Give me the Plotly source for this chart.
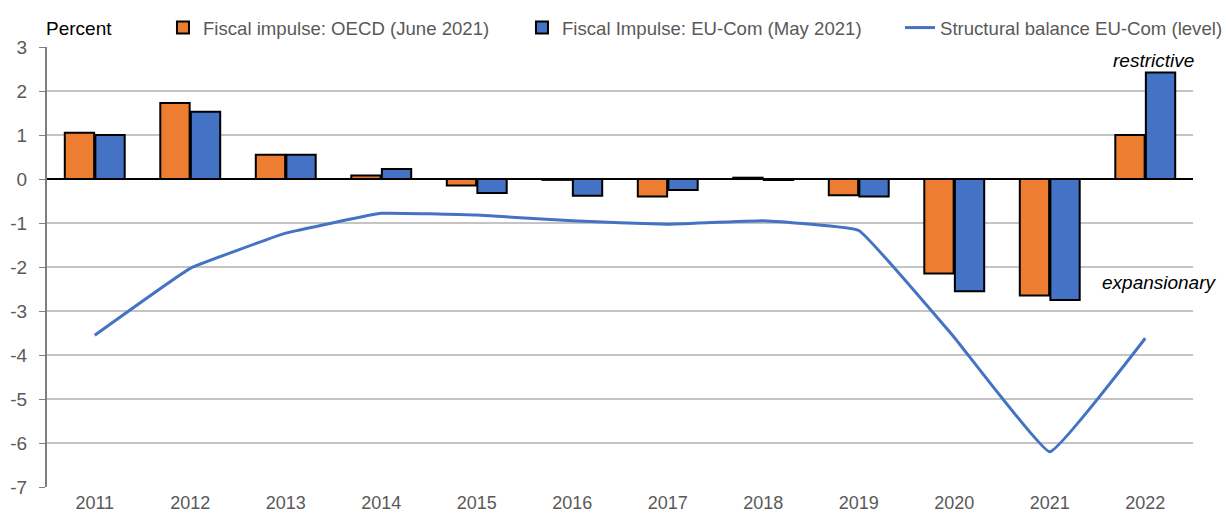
import plotly.graph_objects as go

years = ["2011", "2012", "2013", "2014", "2015", "2016", "2017", "2018", "2019", "2020", "2021", "2022"]
oecd_impulse = [1.05, 1.73, 0.55, 0.08, -0.15, -0.02, -0.40, 0.03, -0.37, -2.15, -2.65, 1.00]
eucom_impulse = [1.00, 1.53, 0.55, 0.23, -0.32, -0.38, -0.25, -0.02, -0.40, -2.55, -2.75, 2.42]
structural_balance = [-3.55, -2.03, -1.23, -0.78, -0.82, -0.95, -1.03, -0.95, -1.17, -3.60, -6.20, -3.62]
y_ticks = [3, 2, 1, 0, -1, -2, -3, -4, -5, -6, -7]
y_tick_labels = ["3", "2", "1", "0", "-1", "-2", "-3", "-4", "-5", "-6", "-7"]

FONT = "Liberation Sans, Arial, sans-serif"
ORANGE = "#ED7D31"
BLUE = "#4472C4"
GRAY_TXT = "#595959"

fig = go.Figure()
fig.add_trace(go.Bar(x=years, y=oecd_impulse, name="Fiscal impulse: OECD (June 2021)",
                     legendwidth=314,
                     marker=dict(color=ORANGE, line=dict(color="black", width=2))))
fig.add_trace(go.Bar(x=years, y=eucom_impulse, name="Fiscal Impulse: EU-Com (May 2021)",
                     legendwidth=333,
                     marker=dict(color=BLUE, line=dict(color="black", width=2))))
fig.add_trace(go.Scatter(x=years, y=structural_balance, name="Structural balance EU-Com (level)",
                         mode="lines", line=dict(color=BLUE, width=3, shape="spline", smoothing=0.25)))

fig.update_layout(
    width=1226, height=515,
    margin=dict(l=47, r=33, t=47, b=28, autoexpand=False),
    plot_bgcolor="white", paper_bgcolor="white",
    font=dict(family=FONT, size=19, color=GRAY_TXT),
    barmode="group", bargap=0.36, bargroupgap=0.04,
    showlegend=True,
    legend=dict(orientation="h", x=0.1012, y=1.0, xanchor="left", yanchor="bottom",
                font=dict(family=FONT, size=18.6, color=GRAY_TXT),
                bgcolor="rgba(0,0,0,0)", itemwidth=30, traceorder="normal"),
    xaxis=dict(showgrid=False, showline=False, ticks="", automargin=False, ticklabelstandoff=3,
               tickfont=dict(size=18, color=GRAY_TXT)),
    yaxis=dict(range=[-7, 3], tickvals=y_ticks, ticktext=y_tick_labels, automargin=False,
               showgrid=True, gridcolor="#C4C4C4", gridwidth=2,
               zeroline=True, zerolinecolor="black", zerolinewidth=2,
               showline=True, linecolor="#7F7F7F", linewidth=2, ticks="outside", ticklen=6,
               ticklabelstandoff=8,
               tickcolor="#7F7F7F", tickfont=dict(size=19, color=GRAY_TXT)),
    annotations=[
        dict(text="Percent", xref="paper", yref="paper", x=0.0, y=1.0, xanchor="left", yanchor="bottom",
             showarrow=False, font=dict(family=FONT, size=19, color="#000000"), xshift=-3, yshift=6),
        dict(text="<i>restrictive</i>", xref="paper", yref="y", x=1.0, y=2.7, xanchor="right", yanchor="middle",
             showarrow=False, font=dict(family=FONT, size=19, color="#000000"), xshift=3),
        dict(text="<i>expansionary</i>", xref="paper", yref="y", x=1.0225, y=-2.36, xanchor="right", yanchor="middle",
             showarrow=False, font=dict(family=FONT, size=19, color="#000000")),
    ],
)

fig.write_html("out.html", config={"displayModeBar": False},
               post_script="document.body.style.margin='0';")
